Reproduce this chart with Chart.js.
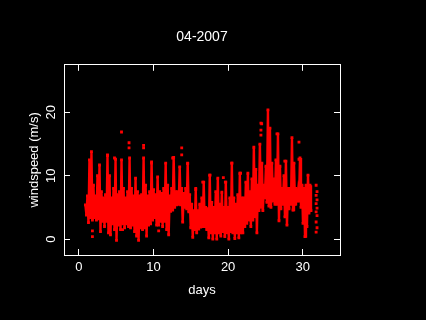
<!DOCTYPE html>
<html>
<head>
<meta charset="utf-8">
<style>
  html, body { margin: 0; background: #000; }
  canvas { display: block; }
</style>
<script src="https://cdn.jsdelivr.net/npm/chart.js@4"></script>
</head>
<body>
<canvas id="windChart" width="426" height="320"></canvas>
<script>
const chartTitle = '04-2007'
const xLabel = 'days'
const yLabel = 'windspeed (m/s)'
const xTicks = [0, 10, 20, 30]
const yTicks = [0, 10, 20]

// time ordered samples, the swings up and down make the dense band
const windDays = [
  0.87, 1.01, 1.14, 1.28, 1.41, 1.55, 1.68, 1.81, 1.95, 2.08,
  2.22, 2.35, 2.49, 2.62, 2.76, 2.89, 3.02, 3.16, 3.29, 3.43,
  3.56, 3.70, 3.83, 3.96, 4.10, 4.23, 4.37, 4.50, 4.64, 4.77,
  4.91, 5.04, 5.18, 5.31, 5.44, 5.58, 5.71, 5.85, 5.98, 6.12,
  6.25, 6.38, 6.52, 6.65, 6.79, 6.92, 7.06, 7.19, 7.32, 7.46,
  7.59, 7.73, 7.86, 8.00, 8.13, 8.27, 8.40, 8.53, 8.67, 8.80,
  8.94, 9.07, 9.21, 9.34, 9.48, 9.61, 9.74, 9.88, 10.01, 10.15,
  10.28, 10.42, 10.55, 10.69, 10.82, 10.95, 11.09, 11.22, 11.36, 11.49,
  11.63, 11.76, 11.90, 12.03, 12.17, 12.30, 12.43, 12.57, 12.70, 12.84,
  12.97, 13.11, 13.24, 13.38, 13.51, 13.64, 13.78, 13.91, 14.05, 14.18,
  14.31, 14.45, 14.58, 14.72, 14.85, 14.99, 15.12, 15.26, 15.39, 15.52,
  15.66, 15.79, 15.93, 16.06, 16.20, 16.33, 16.47, 16.60, 16.73, 16.87,
  17.00, 17.14, 17.27, 17.41, 17.54, 17.68, 17.81, 17.95, 18.08, 18.21,
  18.35, 18.48, 18.62, 18.75, 18.89, 19.02, 19.16, 19.29, 19.42, 19.56,
  19.69, 19.83, 19.96, 20.10, 20.23, 20.37, 20.50, 20.63, 20.77, 20.90,
  21.03, 21.17, 21.30, 21.44, 21.57, 21.71, 21.84, 21.98, 22.11, 22.24,
  22.38, 22.51, 22.65, 22.78, 22.92, 23.05, 23.19, 23.32, 23.45, 23.59,
  23.72, 23.86, 23.99, 24.13, 24.26, 24.40, 24.53, 24.66, 24.80, 24.93,
  25.07, 25.20, 25.34, 25.47, 25.61, 25.74, 25.87, 26.01, 26.14, 26.28,
  26.41, 26.55, 26.68, 26.82, 26.95, 27.08, 27.22, 27.35, 27.49, 27.62,
  27.75, 27.89, 28.02, 28.16, 28.29, 28.43, 28.56, 28.70, 28.83, 28.97,
  29.10, 29.24, 29.37, 29.50, 29.64, 29.77, 29.91, 30.04, 30.18, 30.31,
  30.44, 30.57, 30.71, 30.84, 30.98, 31.11
]
const windSpeed = [
  5.4, 3.8, 6.8, 2.6, 12.5, 3.4, 13.8, 3.0, 8.5, 3.4,
  6.8, 3.0, 10.0, 3.2, 11.7, 1.2, 7.5, 2.8, 6.5, 2.0,
  7.0, 2.8, 13.2, 1.0, 10.0, 0.7, 6.5, 2.4, 8.0, 1.5,
  12.6, -0.2, 7.0, 2.2, 7.5, 1.5, 12.5, 2.4, 8.0, 1.8,
  6.5, 2.4, 7.5, 2.0, 12.8, 1.8, 8.0, 2.2, 6.8, 1.2,
  9.6, 0.5, 7.5, -0.2, 6.8, 1.8, 7.0, 1.5, 12.8, 1.8,
  8.5, 0.5, 6.8, 2.2, 7.5, 2.4, 12.2, 3.0, 7.8, 3.4,
  7.0, 2.2, 9.8, 2.2, 7.5, 2.8, 7.2, 2.0, 8.0, 2.8,
  12.0, 1.5, 8.5, 0.7, 6.8, 4.4, 8.0, 4.6, 12.9, 5.0,
  7.5, 5.4, 7.5, 5.5, 11.4, 5.4, 8.0, 2.7, 7.2, 5.0,
  8.0, 4.8, 12.0, 4.3, 7.0, 1.8, 5.5, 0.3, 4.5, 1.5,
  7.8, 1.0, 4.5, 1.6, 5.5, 1.9, 6.5, 2.0, 9.0, 2.0,
  5.0, 1.5, 4.8, 0.2, 10.1, 1.0, 5.8, 0.0, 5.0, 1.0,
  7.5, 0.0, 9.6, 1.0, 5.5, 0.5, 7.4, 1.2, 5.0, 0.4,
  9.0, 1.0, 5.0, 0.0, 6.5, 1.2, 12.0, 1.0, 6.5, 0.1,
  5.5, 1.0, 7.0, 0.2, 10.4, 1.0, 6.5, 1.0, 6.5, 2.0,
  9.0, 2.5, 10.4, 3.0, 7.5, 2.0, 9.5, 3.0, 14.5, 3.5,
  11.0, 1.0, 8.5, 4.5, 15.0, 5.0, 12.0, 4.5, 8.5, 6.5,
  11.5, 5.8, 20.4, 5.2, 17.5, 5.0, 12.0, 6.0, 9.5, 5.5,
  12.5, 5.5, 16.6, 2.9, 11.5, 4.8, 8.0, 5.5, 10.0, 3.5,
  12.3, 2.2, 8.0, 4.8, 8.0, 5.5, 16.0, 4.6, 12.0, 5.5,
  8.0, 6.0, 7.5, 6.0, 12.8, 5.0, 8.5, 2.5, 8.0, 0.4,
  8.5, 2.0, 10.1, 4.1, 8.5, 4.5
]

// samples that stand apart from the band
const strayDays = [
  1.81, 1.81, 5.71, 6.72, 6.72, 8.67, 8.67, 3.83, 4.77, 12.57,
  9.74, 13.78, 13.78, 14.58, 5.85, 10.69, 20.5, 24.4, 24.4, 24.4,
  24.5, 26.55, 29.5, 29.5, 21.67, 17.57, 15.66, 16.6, 19.36, 19.63,
  27.6, 31.8, 31.92, 31.8, 31.92, 31.8, 31.92, 31.8, 31.92, 31.8,
  31.92, 31.8
]
const straySpeed = [
  1.3, 0.4, 16.9, 15.2, 14.4, 14.8, 14.4, 13.3, 12.8, 12.8,
  12.0, 14.4, 13.3, 11.9, 1.5, 1.3, 12.0, 18.3, 17.2, 16.4,
  18.2, 16.6, 15.3, 12.6, 10.4, 10.1, 8.0, 9.0, 9.7, 9.0,
  12.3, 8.5, 7.5, 6.9, 6.2, 5.6, 4.9, 4.3, 3.7, 2.7,
  1.8, 1.1
]

const toPoints = (xs, ys) => xs.map((x, i) => ({ x, y: ys[i] }))
const fixTicks = list => scale => { scale.ticks = list.map(value => ({ value })) }
const fixSize = (key, size) => scale => { scale[key] = size }

const textFont = { family: '"Liberation Sans", Helvetica, Arial, sans-serif', size: 13 }

const edgeAxis = (list, min, max, pos, key, size) => ({
  type: 'linear',
  position: pos,
  min,
  max,
  afterBuildTicks: fixTicks(list),
  afterFit: fixSize(key, size),
  border: { color: '#fff', width: 1 },
  grid: { drawOnChartArea: false, drawTicks: true, tickLength: -6, tickColor: '#fff', tickWidth: 1 }
})

new Chart(document.getElementById('windChart'), {
  type: 'scatter',
  data: {
    datasets: [
      {
        data: toPoints(windDays, windSpeed),
        showLine: true,
        borderColor: '#ff0000',
        borderWidth: 2.4,
        backgroundColor: '#ff0000',
        pointStyle: 'rect',
        pointBorderWidth: 0,
        pointRadius: 2,
        xAxisID: 'x',
        yAxisID: 'y'
      },
      {
        data: toPoints(strayDays, straySpeed),
        showLine: false,
        backgroundColor: '#ff0000',
        borderWidth: 0,
        pointStyle: 'rect',
        pointRadius: 2,
        xAxisID: 'x',
        yAxisID: 'y'
      }
    ]
  },
  options: {
    responsive: false,
    animation: false,
    layout: { padding: 0 },
    plugins: {
      legend: { display: false },
      tooltip: { enabled: false },
      title: {
        display: true,
        fullSize: false,
        text: chartTitle,
        color: '#fff',
        font: { ...textFont, size: 14, weight: 'normal' },
        padding: { top: 29, bottom: 0 }
      }
    },
    scales: {
      x: {
        ...edgeAxis(xTicks, -2, 35, 'bottom', 'height', 65),
        ticks: { color: '#fff', font: textFont, padding: 11, maxRotation: 0, includeBounds: false },
        title: { display: true, text: xLabel, color: '#fff', font: textFont, padding: { top: 0, bottom: 22 } }
      },
      xTop: {
        ...edgeAxis(xTicks, -2, 35, 'top', 'height', 19),
        ticks: { display: false }
      },
      y: {
        ...edgeAxis(yTicks, -2.5, 27.5, 'left', 'width', 64),
        ticks: { color: '#fff', font: textFont, padding: 11, minRotation: 90, maxRotation: 90, crossAlign: 'center', includeBounds: false },
        title: { display: true, text: yLabel, color: '#fff', font: textFont, padding: { top: 27, bottom: 0 } }
      },
      yRight: {
        ...edgeAxis(yTicks, -2.5, 27.5, 'right', 'width', 86),
        ticks: { display: false }
      }
    }
  }
})
</script>
</body>
</html>
